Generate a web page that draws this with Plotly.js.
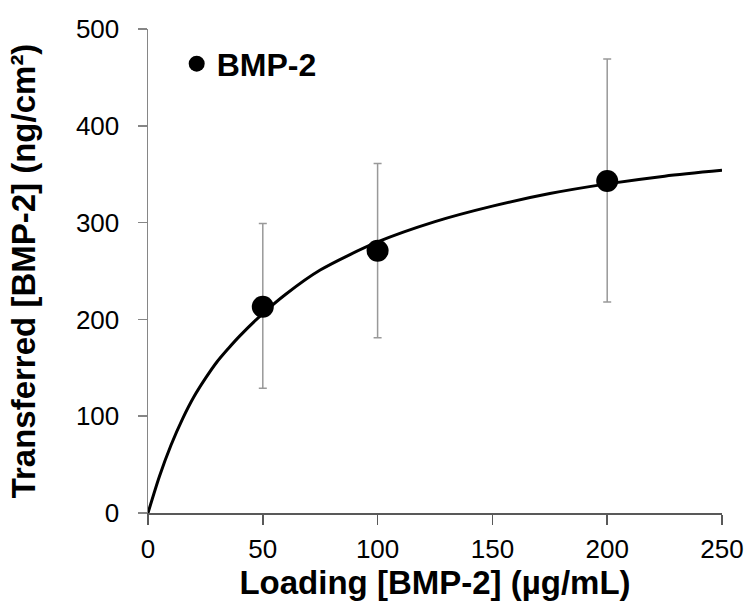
<!DOCTYPE html>
<html>
<head>
<meta charset="utf-8">
<script src="https://cdn.plot.ly/plotly-3.0.1.min.js"></script>
<style>html,body{margin:0;padding:0;background:#fff;}#chart{width:749px;height:604px;}</style>
</head>
<body>
<div id="chart"></div>
<script>
// Measured data points
const loading = [50, 100, 200];
const transferred = [213, 271, 343];
const errPlus = [86, 90, 126];
const errMinus = [84, 90, 125];

// Fitted curve
const curveX = [0, 5, 10, 15, 20, 25, 30, 35, 40, 50, 60, 75, 100, 125, 150, 175, 200, 225, 250];
const curveY = [0, 38, 70, 97, 120, 139, 156, 170, 183, 206, 226, 251, 280, 301, 317, 330, 340, 348, 354];

const seriesName = 'BMP-2';
const xTicks = [0, 50, 100, 150, 200, 250];
const yTicks = [0, 100, 200, 300, 400, 500];

const FONT = '"Liberation Sans", Arial, sans-serif';

const traces = [
  {
    x: curveX, y: curveY, type: 'scatter', mode: 'lines',
    line: {color: '#000', width: 3, shape: 'spline', smoothing: 0.8},
    showlegend: false, hoverinfo: 'skip'
  },
  {
    x: loading, y: transferred, type: 'scatter', mode: 'markers', name: seriesName,
    marker: {color: '#000', size: 22},
    error_y: {type: 'data', symmetric: false, array: errPlus, arrayminus: errMinus,
              color: '#999999', thickness: 1.5, width: 4},
    cliponaxis: false
  }
];

const layout = {
  width: 749, height: 604,
  margin: {l: 148, r: 27, t: 29, b: 91},
  paper_bgcolor: '#fff', plot_bgcolor: '#fff',
  font: {family: FONT, color: '#000'},
  showlegend: true,
  legend: {x: 0.05, y: 0.928, xanchor: 'left', yanchor: 'middle',
           bgcolor: 'rgba(0,0,0,0)', font: {family: FONT, size: 32, color: '#000', weight: 'bold'}},
  xaxis: {
    range: [0, 250], tickvals: xTicks, ticktext: xTicks.map(String),
    showgrid: false, zeroline: false, showline: true, linecolor: '#595959', linewidth: 1.5,
    ticks: 'outside', ticklen: 10, tickcolor: '#595959', tickwidth: 1.5,
    tickfont: {family: FONT, size: 26, color: '#000'},
    ticklabelstandoff: 2,
    title: {text: 'Loading [BMP-2] (µg/mL)', font: {family: FONT, size: 33, color: '#000', weight: 'bold'}, standoff: 4},
    automargin: false
  },
  yaxis: {
    range: [0, 500], tickvals: yTicks, ticktext: yTicks.map(String),
    showgrid: false, zeroline: false, showline: true, linecolor: '#868686', linewidth: 1.5,
    ticks: 'outside', ticklen: 9, tickcolor: '#868686', tickwidth: 1.5,
    tickfont: {family: FONT, size: 26, color: '#000'},
    ticklabelstandoff: 13,
    title: {text: 'Transferred [BMP-2] (ng/cm²)', font: {family: FONT, size: 33, color: '#000', weight: 'bold'}, standoff: 30},
    automargin: false
  }
};

Plotly.newPlot('chart', traces, layout, {displayModeBar: false, staticPlot: true});
</script>
</body>
</html>
